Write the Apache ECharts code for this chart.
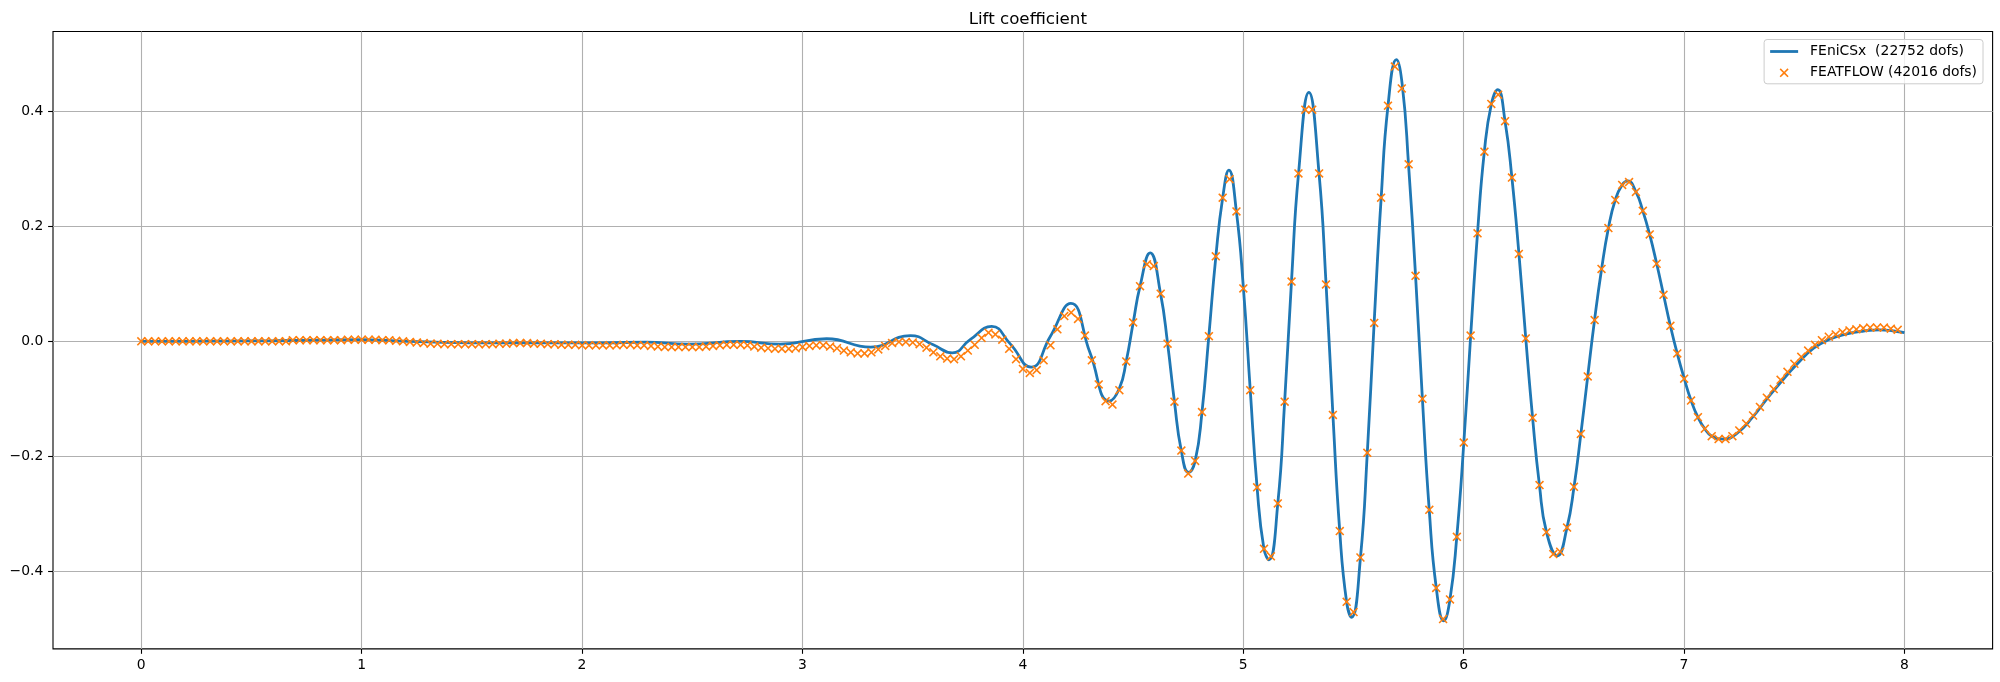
<!DOCTYPE html>
<html><head><meta charset="utf-8">
<script src="https://cdn.jsdelivr.net/npm/echarts@6/dist/echarts.min.js"></script>
<style>html,body{margin:0;padding:0;background:#fff}#c{width:2000px;height:682px}</style>
</head><body><div id="c"></div>
<script>
// ---- data ----
const xTicks = [0, 1, 2, 3, 4, 5, 6, 7, 8];
const yTicks = [-0.4, -0.2, 0.0, 0.2, 0.4];
const seriesNames = ['FEniCSx  (22752 dofs)', 'FEATFLOW (42016 dofs)'];

// FEniCSx lift coefficient, read at points along the curve
const fenicsT = [0, 0.2, 0.4, 0.6, 0.8, 1.0, 1.15, 1.3, 1.5, 1.7, 1.9, 2.1, 2.29, 2.48, 2.72, 2.90, 3.11, 3.31,
  3.49, 3.594, 3.680, 3.761, 3.859, 3.942, 4.038, 4.124, 4.218, 4.305, 4.392, 4.438, 4.469, 4.501, 4.532,
  4.578, 4.625, 4.657, 4.688, 4.719, 4.752, 4.782, 4.813, 4.844, 4.876, 4.907, 4.935, 4.969, 5.001, 5.032,
  5.063, 5.094, 5.117, 5.157, 5.188, 5.219, 5.251, 5.298, 5.344, 5.376, 5.407, 5.438, 5.469, 5.492, 5.532,
  5.563, 5.594, 5.626, 5.657, 5.695, 5.722, 5.750, 5.782, 5.813, 5.844, 5.876, 5.910, 5.938, 5.969, 6.001,
  6.032, 6.063, 6.094, 6.126, 6.155, 6.188, 6.219, 6.251, 6.282, 6.313, 6.344, 6.376, 6.425, 6.469, 6.501,
  6.532, 6.563, 6.594, 6.626, 6.657, 6.688, 6.719, 6.745, 6.782, 6.813, 6.844, 6.876, 6.907, 6.938, 6.969,
  7.001, 7.032, 7.063, 7.094, 7.126, 7.180, 7.240, 7.313, 7.376, 7.437, 7.512, 7.588, 7.663, 7.739, 7.815,
  7.890, 7.950, 8.0];
const fenicsY = [0, 0, 0.0005, 0.001, 0.002, 0.003, 0.001, -0.001, -0.0025, -0.0025, -0.0025, -0.0025, -0.0015, -0.005, 0.000, -0.005, 0.0045, -0.010,
  0.010, -0.006, -0.020, 0.003, 0.026, -0.004, -0.045, 0.008, 0.066, -0.020, -0.104, -0.082, -0.035, 0.033, 0.096,
  0.154, 0.083, -0.004, -0.105, -0.190, -0.228, -0.208, -0.123, 0.009, 0.148, 0.250, 0.298, 0.226, 0.092, -0.085,
  -0.254, -0.361, -0.380, -0.282, -0.105, 0.104, 0.292, 0.433, 0.292, 0.099, -0.128, -0.330, -0.453, -0.480, -0.376,
  -0.194, 0.032, 0.250, 0.410, 0.490, 0.445, 0.308, 0.114, -0.100, -0.293, -0.429, -0.486, -0.449, -0.340, -0.176,
  0.010, 0.188, 0.330, 0.413, 0.438, 0.383, 0.285, 0.152, 0.005, -0.133, -0.250, -0.332, -0.373, -0.324, -0.253,
  -0.161, -0.061, 0.037, 0.126, 0.197, 0.246, 0.272, 0.279, 0.260, 0.227, 0.186, 0.135, 0.081, 0.027, -0.021,
  -0.065, -0.103, -0.132, -0.152, -0.165, -0.170, -0.160, -0.131, -0.100, -0.072, -0.040, -0.012, 0.004, 0.013, 0.018,
  0.020, 0.018, 0.015];

// FEATFLOW markers: one every 0.03125 s starting at t = 0.000625
const featflowStart = 0.000625;
const featflowStep = 0.03125;
const featflowY = [
  0, 0, 0, 0, 0, 0, 0, 0, 0, 0, 0, 0, 0, 0, 0, 0,
  0, 0, 0, 0, 0, 0, 0.002, 0.002, 0.002, 0.002, 0.002, 0.002, 0.002, 0.002, 0.003, 0.003,
  0.003, 0.003, 0.003, 0.002, 0.002, 0.001, 0, -0.001, -0.002, -0.003, -0.004, -0.004, -0.005, -0.005, -0.005, -0.005,
  -0.005, -0.005, -0.005, -0.005, -0.004, -0.004, -0.003, -0.003, -0.003, -0.004, -0.004, -0.005, -0.005, -0.006, -0.006, -0.006,
  -0.007, -0.007, -0.007, -0.007, -0.007, -0.007, -0.006, -0.006, -0.007, -0.007, -0.008, -0.009, -0.010, -0.010, -0.010, -0.010,
  -0.010, -0.010, -0.009, -0.008, -0.007, -0.006, -0.006, -0.006, -0.007, -0.009, -0.011, -0.012, -0.013, -0.013, -0.013, -0.012,
  -0.010, -0.008, -0.007, -0.007, -0.009, -0.012, -0.016, -0.019, -0.021, -0.021, -0.019, -0.014, -0.008, -0.003, -0.001, -0.001,
  -0.002, -0.005, -0.011, -0.019, -0.026, -0.030, -0.031, -0.026, -0.016, -0.006, 0.006, 0.015, 0.012, 0.003, -0.013, -0.031,
  -0.048, -0.055, -0.050, -0.033, -0.007, 0.021, 0.044, 0.050, 0.039, 0.010, -0.033, -0.075, -0.104, -0.110, -0.085, -0.035,
  0.033, 0.096, 0.134, 0.131, 0.083, -0.004, -0.105, -0.190, -0.230, -0.208, -0.123, 0.009, 0.148, 0.250, 0.282, 0.226,
  0.092, -0.085, -0.254, -0.361, -0.374, -0.282, -0.105, 0.104, 0.292, 0.403, 0.403, 0.292, 0.099, -0.128, -0.330, -0.453,
  -0.471, -0.376, -0.194, 0.032, 0.250, 0.410, 0.478, 0.440, 0.308, 0.114, -0.100, -0.293, -0.429, -0.483, -0.449, -0.340,
  -0.176, 0.010, 0.188, 0.330, 0.413, 0.429, 0.383, 0.285, 0.152, 0.005, -0.133, -0.250, -0.332, -0.370, -0.366, -0.324,
  -0.253, -0.161, -0.061, 0.037, 0.126, 0.197, 0.246, 0.272, 0.277, 0.260, 0.227, 0.186, 0.135, 0.081, 0.027, -0.021,
  -0.065, -0.103, -0.132, -0.152, -0.165, -0.170, -0.170, -0.165, -0.155, -0.143, -0.129, -0.114, -0.098, -0.083, -0.067, -0.053,
  -0.039, -0.027, -0.016, -0.006, 0.002, 0.008, 0.012, 0.016, 0.019, 0.021, 0.023, 0.024, 0.024, 0.024, 0.022, 0.020
];

// ---- chart ----
const FONT = "'DejaVu Sans', sans-serif";
const fenicsData = fenicsT.map((t, i) => [t, fenicsY[i]]);
const featflowData = featflowY.map((y, k) => [featflowStart + k * featflowStep, y]);
const xMark = 'path://M0,1.24L1.24,0L5,3.76L8.76,0L10,1.24L6.24,5L10,8.76L8.76,10L5,6.24L1.24,10L0,8.76L3.76,5Z';
const lineIcon = 'path://M0,0L28,0L28,2.8L0,2.8Z';

const chart = echarts.init(document.getElementById('c'), null, {renderer: 'canvas', width: 2000, height: 682});
chart.setOption({
  animation: false,
  backgroundColor: '#ffffff',
  title: {
    text: 'Lift coefficient', left: 1022.8, top: 6, textAlign: 'center',
    textStyle: {fontFamily: FONT, fontSize: 16.7, fontWeight: 'normal', color: '#000'}
  },
  grid: {left: 53, right: 7.4, top: 31.5, bottom: 33.1, show: true, borderColor: '#000', borderWidth: 1.1, backgroundColor: 'transparent'},
  legend: {
    orient: 'vertical', right: 17, top: 39.5, padding: [5, 6, 4, 6],
    itemWidth: 28, itemHeight: 9, itemGap: 7.3,
    backgroundColor: 'rgba(255,255,255,0.8)', borderColor: '#cccccc', borderWidth: 1, borderRadius: 3,
    textStyle: {fontFamily: FONT, fontSize: 13.9, color: '#000', padding: [0, 0, 0, 7]},
    data: [{name: seriesNames[0], icon: lineIcon}, {name: seriesNames[1]}],
    selectedMode: false
  },
  xAxis: {
    type: 'value', min: -0.4, max: 8.4,
    axisLine: {show: false, onZero: false},
    axisTick: {show: true, customValues: xTicks, length: 4.9, lineStyle: {color: '#000', width: 1.1}},
    axisLabel: {customValues: xTicks, margin: 9, fontFamily: FONT, fontSize: 13.9, color: '#000', formatter: v => String(v)},
    splitLine: {show: true, lineStyle: {color: '#b0b0b0', width: 1.1}}
  },
  yAxis: {
    type: 'value', min: -0.535, max: 0.539,
    axisLine: {show: false, onZero: false},
    axisTick: {show: true, customValues: yTicks, length: 4.9, lineStyle: {color: '#000', width: 1.1}},
    axisLabel: {customValues: yTicks, margin: 9.7, fontFamily: FONT, fontSize: 13.9, color: '#000',
      formatter: v => (v < 0 ? '\u2212' : '') + Math.abs(v).toFixed(1)},
    splitLine: {show: true, lineStyle: {color: '#b0b0b0', width: 1.1}}
  },
  series: [
    {name: seriesNames[0], type: 'line', data: fenicsData, smooth: 0.5, symbol: 'none',
      lineStyle: {color: '#1f77b4', width: 2.8}, itemStyle: {color: '#1f77b4'}, z: 2},
    {name: seriesNames[1], type: 'scatter', data: featflowData, symbol: xMark, symbolSize: 9,
      itemStyle: {color: '#ff7f0e', opacity: 1}, z: 3}
  ]
});
</script>
</body></html>
